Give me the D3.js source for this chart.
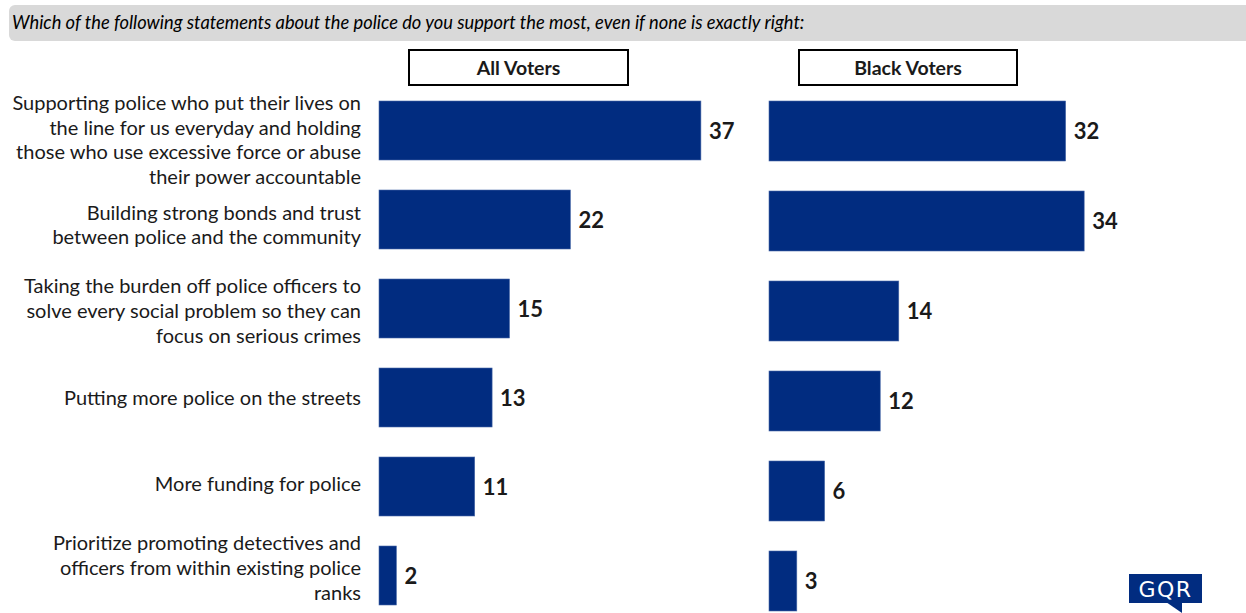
<!DOCTYPE html>
<html><head><meta charset="utf-8">
<script src="https://cdn.jsdelivr.net/npm/d3@7/dist/d3.min.js"></script>
<style>body{margin:0;background:#fff}svg{display:block}</style>
</head><body>
<script>
const title = "Which of the following statements about the police do you support the most, even if none is exactly right:";
const categories = [
  ["Supporting police who put their lives on","the line for us everyday and holding","those who use excessive force or abuse","their power accountable"],
  ["Building strong bonds and trust","between police and the community"],
  ["Taking the burden off police officers to","solve every social problem so they can","focus on serious crimes"],
  ["Putting more police on the streets"],
  ["More funding for police"],
  ["Prioritize promoting detectives and","officers from within existing police","ranks"]
];
const panelNames = ["All Voters", "Black Voters"];
const allVoters = [37, 22, 15, 13, 11, 2];
const blackVoters = [32, 34, 14, 12, 6, 3];

const W = 1246, H = 613;
const svg = d3.select("body").append("svg").attr("width", W).attr("height", H);
const font = "Lato, 'Open Sans', sans-serif";
const barColor = "#012C80";
const textColor = "#1a1a1a";

// header
svg.append("rect").attr("x", 9).attr("y", 5).attr("width", 1250).attr("height", 36)
  .attr("rx", 6).attr("fill", "#D9D9D9");
svg.append("text").attr("x", 12).attr("y", 29).attr("font-family", font)
  .attr("font-style", "italic").attr("font-size", 18.3).attr("fill", "#000").text(title);

// panel layout: pixel range per 100%
const panels = [
  {values: allVoters, x0: 379, pxPer100: 870, top: 101, step: 89, bh: 59, box: [409, 628]},
  {values: blackVoters, x0: 769, pxPer100: 927, top: 101, step: 90, bh: 60, box: [799, 1017]}
];

panels.forEach((p, pi) => {
  const x = d3.scaleLinear().domain([0, 100]).range([p.x0, p.x0 + p.pxPer100]);
  const y = d3.scaleLinear().domain([0, 1]).range([p.top, p.top + p.step]);
  const g = svg.append("g");
  g.selectAll("rect.bar").data(p.values).join("rect").attr("class", "bar")
    .attr("x", x(0)).attr("y", (d, i) => y(i))
    .attr("width", d => x(d) - x(0)).attr("height", p.bh)
    .attr("fill", barColor).attr("stroke", "#4a6aa8").attr("stroke-width", 0.6);
  g.selectAll("text.val").data(p.values).join("text").attr("class", "val")
    .attr("x", d => x(d) + 8).attr("y", (d, i) => y(i) + p.bh / 2 + 8)
    .attr("font-family", font).attr("font-weight", "bold").attr("font-size", 22)
    .attr("fill", textColor).text(d => d);
  // panel title box
  svg.append("rect").attr("x", p.box[0]).attr("y", 50).attr("width", p.box[1] - p.box[0]).attr("height", 35)
    .attr("fill", "#fff").attr("stroke", "#000").attr("stroke-width", 2);
  svg.append("text").attr("x", (p.box[0] + p.box[1]) / 2).attr("y", 75).attr("text-anchor", "middle")
    .attr("font-family", font).attr("font-weight", "bold").attr("font-size", 19.5).attr("fill", textColor).text(panelNames[pi]);
});

// category labels (aligned to left panel rows)
const lp = panels[0];
const lineH = 24.8;
const nudge = [10, 6, 3, 1, -2, -7];
categories.forEach((lines, i) => {
  const cy = lp.top + i * lp.step + lp.bh / 2;
  const t = svg.append("text").attr("text-anchor", "end").attr("font-family", font)
    .attr("font-size", 20).attr("fill", textColor);
  const n = lines.length;
  const startY = cy - (n - 1) * lineH / 2 + 6.5 + nudge[i];
  lines.forEach((l, k) => t.append("tspan").attr("x", 361).attr("y", startY + k * lineH).text(l));
});

// GQR logo
const logo = svg.append("g");
logo.append("rect").attr("x", 1129).attr("y", 574).attr("width", 73).attr("height", 29).attr("fill", barColor);
logo.append("path").attr("d", "M1166,602 L1182,613 L1182,602 Z").attr("fill", barColor);
logo.append("text").attr("x", 1165.5).attr("y", 597).attr("text-anchor", "middle").attr("font-family", "'DejaVu Sans', sans-serif")
  .attr("font-size", 22).attr("fill", "#fff").attr("letter-spacing", 1.5).text("GQR");
</script>
</body></html>
